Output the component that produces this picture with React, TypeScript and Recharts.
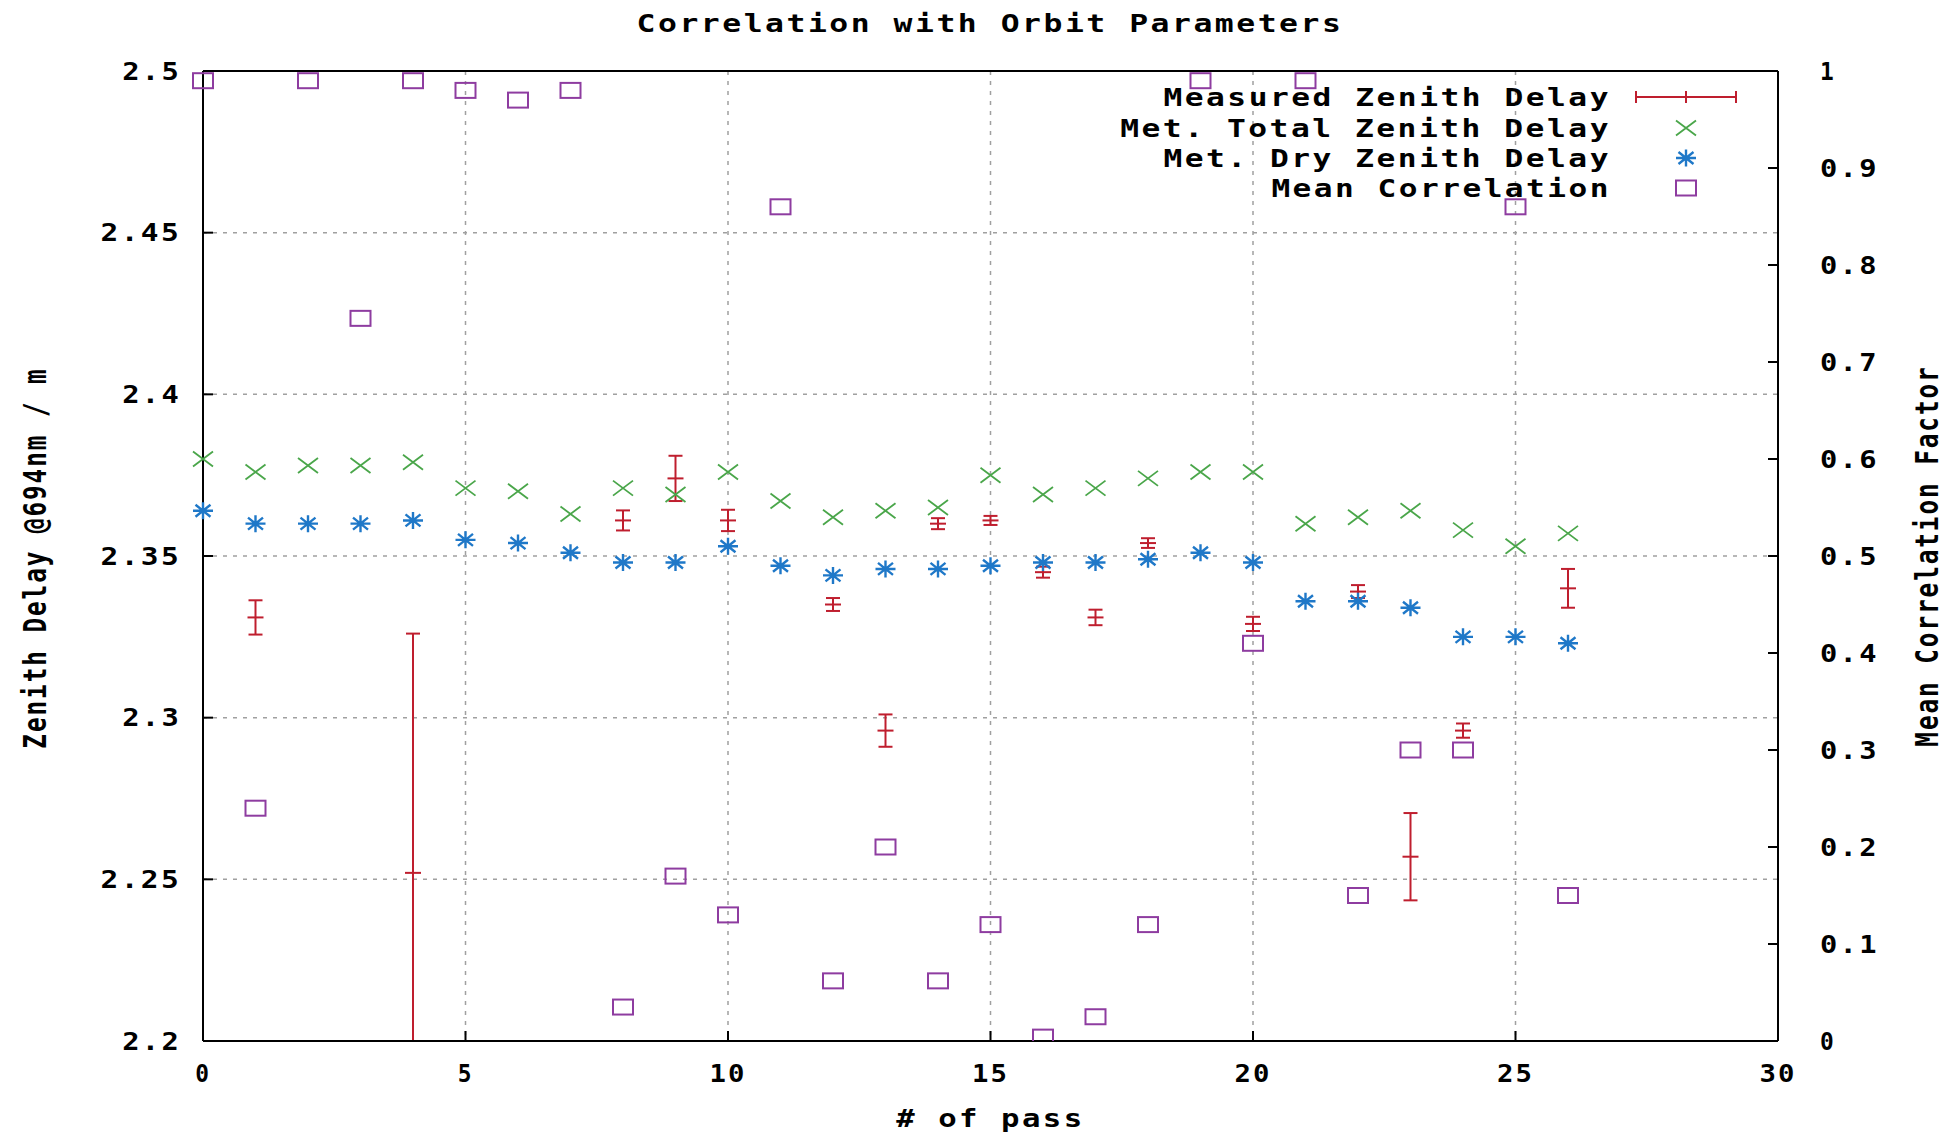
import { ComposedChart, Scatter, XAxis, YAxis, CartesianGrid, ErrorBar } from 'recharts';

const FONT = '"DejaVu Sans Mono", "Liberation Mono", monospace';
const CH = 21.6; // gnuplot glyph pitch in the picture
const CH_V = 16.8; // pitch of the rotated labels

const RED = '#bf1e2e';
const GREEN = '#4aa64a';
const BLUE = '#1f78c8';
const PURPLE = '#8e3ca0';

// pass numbers
const passes = [0, 1, 2, 3, 4, 5, 6, 7, 8, 9, 10, 11, 12, 13, 14, 15, 16, 17, 18, 19, 20, 21, 22, 23, 24, 25, 26];
const totalZenith = [2.380, 2.376, 2.378, 2.378, 2.379, 2.371, 2.370, 2.363, 2.371, 2.369, 2.376, 2.367, 2.362, 2.364, 2.365, 2.375, 2.369, 2.371, 2.374, 2.376, 2.376, 2.360, 2.362, 2.364, 2.358, 2.353, 2.357];
const dryZenith = [2.364, 2.360, 2.360, 2.360, 2.361, 2.355, 2.354, 2.351, 2.348, 2.348, 2.353, 2.347, 2.344, 2.346, 2.346, 2.347, 2.348, 2.348, 2.349, 2.351, 2.348, 2.336, 2.336, 2.334, 2.325, 2.325, 2.323];
const meanCorrelation = [0.99, 0.24, 0.99, 0.745, 0.99, 0.98, 0.97, 0.98, 0.035, 0.17, 0.13, 0.86, 0.062, 0.20, 0.062, 0.12, 0.004, 0.025, 0.12, 0.99, 0.41, 0.99, 0.15, 0.30, 0.30, 0.86, 0.15];

const measuredPass = [1, 4, 8, 9, 10, 12, 13, 14, 15, 16, 17, 18, 20, 22, 23, 24, 26];
const measuredDelay = [2.331, 2.252, 2.361, 2.374, 2.361, 2.335, 2.296, 2.360, 2.361, 2.345, 2.331, 2.354, 2.329, 2.339, 2.257, 2.296, 2.340];
const measuredErr = [0.0053, 0.074, 0.0031, 0.007, 0.0033, 0.002, 0.005, 0.0017, 0.0014, 0.0017, 0.0024, 0.0015, 0.0022, 0.002, 0.0135, 0.0022, 0.006];

const xTicks = [0, 5, 10, 15, 20, 25, 30];
const yTicks = [2.2, 2.25, 2.3, 2.35, 2.4, 2.45, 2.5];
const y2Ticks = [0, 0.1, 0.2, 0.3, 0.4, 0.5, 0.6, 0.7, 0.8, 0.9, 1];
const yDomain = [2.2, 2.5];

const legendLabels = ['Measured Zenith Delay', 'Met. Total Zenith Delay', 'Met. Dry Zenith Delay', 'Mean Correlation'];

// gnuplot clips the bars at the border: cut the lower arm at the axis and drop caps outside
const measuredData = measuredPass.map((p, i) => ({
  pass: p,
  value: measuredDelay[i],
  err: [Math.min(measuredErr[i], measuredDelay[i] - yDomain[0]), measuredErr[i]],
}));
const capData = measuredPass
  .flatMap((p, i) => [
    { pass: p, value: measuredDelay[i] - measuredErr[i] },
    { pass: p, value: measuredDelay[i] + measuredErr[i] },
  ])
  .filter((d) => d.value >= yDomain[0]);
const totalData = passes.map((p, i) => ({ pass: p, value: totalZenith[i] }));
const dryData = passes.map((p, i) => ({ pass: p, value: dryZenith[i] }));
const corrData = passes.map((p, i) => ({ pass: p, value: meanCorrelation[i] }));

const SX = 10;
const SY = 7.5;

function T({ x, y, anchor = 'start', children }: any) {
  const s = String(children);
  return (
    <text
      x={x}
      y={y}
      textAnchor={anchor}
      dominantBaseline="central"
      fontFamily={FONT}
      fontSize={25}
      fontWeight={700}
      letterSpacing={2}
      fill="#000"
      textLength={s.length * CH - 6}
      lengthAdjust="spacingAndGlyphs"
    >
      {s}
    </text>
  );
}

function RT({ x, y, children }: any) {
  const s = String(children);
  return (
    <text
      x={0}
      y={0}
      transform={`translate(${x} ${y}) scale(1.29 1) rotate(-90)`}
      textAnchor="middle"
      dominantBaseline="central"
      fontFamily={FONT}
      fontSize={25}
      fontWeight={700}
      letterSpacing={2}
      fill="#000"
      textLength={s.length * CH_V - 5}
      lengthAdjust="spacingAndGlyphs"
    >
      {s}
    </text>
  );
}

const tickRenderer = (anchor: string) => (p: any) => (
  <T x={p.x} y={p.y} anchor={anchor}>
    {String(p.payload.value)}
  </T>
);

function CenterMark({ cx, cy }: any) {
  return <line x1={cx - 8} y1={cy} x2={cx + 8} y2={cy} stroke={RED} strokeWidth={2} />;
}

function CapMark({ cx, cy }: any) {
  return <line x1={cx - 7} y1={cy} x2={cx + 7} y2={cy} stroke={RED} strokeWidth={2} />;
}

function CrossMark({ cx, cy }: any) {
  return (
    <path
      d={`M${cx - SX},${cy - SY}L${cx + SX},${cy + SY}M${cx - SX},${cy + SY}L${cx + SX},${cy - SY}`}
      stroke={GREEN}
      strokeWidth={1.8}
      fill="none"
    />
  );
}

function StarMark({ cx, cy }: any) {
  const dx = SX * 0.75;
  const dy = SY * 0.8;
  return (
    <path
      d={`M${cx - SX},${cy}L${cx + SX},${cy}M${cx},${cy - SY - 1}L${cx},${cy + SY + 1}M${cx - dx},${cy - dy}L${cx + dx},${cy + dy}M${cx - dx},${cy + dy}L${cx + dx},${cy - dy}`}
      stroke={BLUE}
      strokeWidth={2.4}
      fill="none"
    />
  );
}

function BoxMark({ cx, cy }: any) {
  return <rect x={cx - SX} y={cy - SY} width={2 * SX} height={2 * SY} stroke={PURPLE} strokeWidth={2} fill="none" />;
}

function Legendbox() {
  const rows = [97, 128, 158, 188];
  const mx = 1686;
  return (
    <g>
      {legendLabels.map((l, i) => (
        <T key={l} x={1611} y={rows[i]} anchor="end">
          {l}
        </T>
      ))}
      <path
        d={`M1636,${rows[0]}H1736M1636,${rows[0] - 6}V${rows[0] + 6}M1736,${rows[0] - 6}V${rows[0] + 6}M${mx},${rows[0] - 6}V${rows[0] + 6}`}
        stroke={RED}
        strokeWidth={2}
      />
      <CrossMark cx={mx} cy={rows[1]} />
      <StarMark cx={mx} cy={rows[2]} />
      <BoxMark cx={mx} cy={rows[3]} />
    </g>
  );
}

const axisLine = { stroke: '#000', strokeWidth: 2 };

export default function App() {
  return (
    <div style={{ position: 'fixed', left: 0, top: 0, width: 1952, height: 1134, background: '#fff' }}>
      <ComposedChart width={1952} height={1134} margin={{ top: 70, right: 10, bottom: 13, left: 10 }}>
        <CartesianGrid stroke="#a0a0a0" strokeDasharray="4 6" strokeWidth={1.5} />
        <XAxis
          dataKey="pass"
          type="number"
          domain={[0, 30]}
          ticks={xTicks}
          height={80}
          axisLine={axisLine}
          tickLine={axisLine}
          tickSize={-10}
          tickMargin={42}
          tick={tickRenderer('middle')}
          label={{
            content: (p: any) => (
              <T x={p.viewBox.x + p.viewBox.width / 2} y={p.viewBox.y + 77} anchor="middle">
                # of pass
              </T>
            ),
          }}
        />
        <XAxis
          xAxisId="top"
          orientation="top"
          dataKey="pass"
          type="number"
          domain={[0, 30]}
          ticks={xTicks}
          height={1}
          axisLine={axisLine}
          tickLine={axisLine}
          tickSize={-10}
          tick={false}
        />
        <YAxis
          dataKey="value"
          type="number"
          domain={yDomain}
          ticks={yTicks}
          allowDataOverflow
          width={193}
          axisLine={axisLine}
          tickLine={axisLine}
          tickSize={-10}
          tickMargin={32}
          tick={tickRenderer('end')}
          label={{
            content: (p: any) => (
              <RT x={p.viewBox.x + 25} y={p.viewBox.y + p.viewBox.height / 2 + 2}>
                Zenith Delay @694nm / m
              </RT>
            ),
          }}
        />
        <YAxis
          yAxisId="right"
          orientation="right"
          dataKey="value"
          type="number"
          domain={[0, 1]}
          ticks={y2Ticks}
          allowDataOverflow
          width={164}
          axisLine={axisLine}
          tickLine={axisLine}
          tickSize={-10}
          tickMargin={52}
          tick={tickRenderer('start')}
          label={{
            content: (p: any) => (
              <RT x={p.viewBox.x + 149} y={p.viewBox.y + p.viewBox.height / 2}>
                Mean Correlation Factor
              </RT>
            ),
          }}
        />
        <Scatter name="Measured Zenith Delay" data={measuredData} shape={CenterMark} isAnimationActive={false}>
          <ErrorBar dataKey="err" direction="y" width={0} stroke={RED} strokeWidth={2} isAnimationActive={false} />
        </Scatter>
        <Scatter name="caps" data={capData} shape={CapMark} isAnimationActive={false} />
        <Scatter name="Met. Total Zenith Delay" data={totalData} shape={CrossMark} isAnimationActive={false} />
        <Scatter name="Met. Dry Zenith Delay" data={dryData} shape={StarMark} isAnimationActive={false} />
        <Scatter name="Mean Correlation" data={corrData} yAxisId="right" shape={BoxMark} isAnimationActive={false} />
      </ComposedChart>
      <svg width={1952} height={1134} style={{ position: 'absolute', left: 0, top: 0, pointerEvents: 'none' }}>
        <T x={990} y={23} anchor="middle">
          Correlation with Orbit Parameters
        </T>
        <Legendbox />
      </svg>
    </div>
  );
}
